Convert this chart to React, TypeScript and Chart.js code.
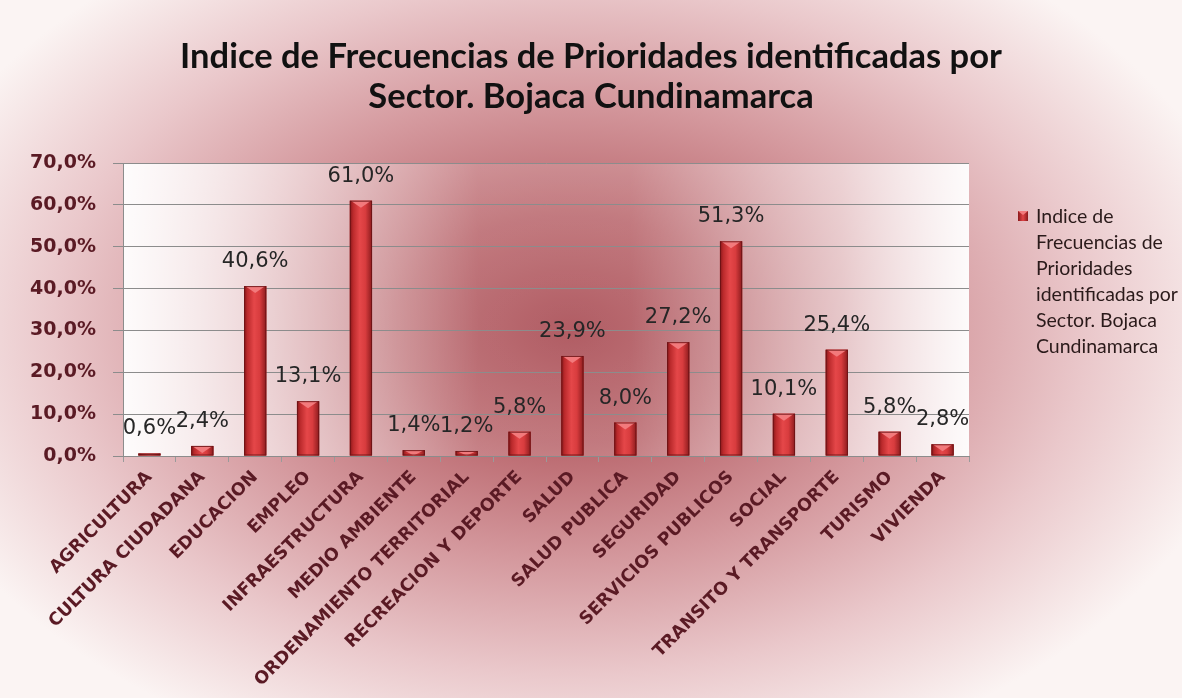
import React, { useEffect, useRef } from 'react';
import { Chart, registerables } from 'chart.js';

Chart.register(...registerables);

const categories = [
  'AGRICULTURA',
  'CULTURA CIUDADANA',
  'EDUCACION',
  'EMPLEO',
  'INFRAESTRUCTURA',
  'MEDIO AMBIENTE',
  'ORDENAMIENTO TERRITORIAL',
  'RECREACION Y DEPORTE',
  'SALUD',
  'SALUD PUBLICA',
  'SEGURIDAD',
  'SERVICIOS PUBLICOS',
  'SOCIAL',
  'TRANSITO Y TRANSPORTE',
  'TURISMO',
  'VIVIENDA',
];

const values = [0.6, 2.4, 40.6, 13.1, 61.0, 1.4, 1.2, 5.8, 23.9, 8.0, 27.2, 51.3, 10.1, 25.4, 5.8, 2.8];

const seriesName = 'Indice de Frecuencias de Prioridades identificadas por Sector. Bojaca Cundinamarca';

const titleLines = ['Indice de Frecuencias de Prioridades identificadas por', 'Sector. Bojaca Cundinamarca'];

const legendLines = ['Indice de', 'Frecuencias de', 'Prioridades', 'identificadas por', 'Sector. Bojaca', 'Cundinamarca'];

const yMin = 0;
const yMax = 70;
const yStep = 10;

const fmt = (v: number) => v.toFixed(1).replace('.', ',') + '%';

const W = 1182;
const H = 698;

const backgroundPlugin = {
  id: 'bgPlugin',
  beforeDraw(chart: any) {
    const ctx = chart.ctx as CanvasRenderingContext2D;
    ctx.save();
    ctx.fillStyle = '#fdf8f7';
    ctx.fillRect(0, 0, W, H);
    ctx.save();
    const cx = 570;
    const cy = 330;
    ctx.translate(cx, cy);
    ctx.scale(1.5, 1);
    const r = 460;
    const g = ctx.createRadialGradient(0, 0, 0, 0, 0, r);
    g.addColorStop(0, 'rgb(166,70,78)');
    g.addColorStop(0.25, 'rgb(186,104,110)');
    g.addColorStop(0.5, 'rgb(212,152,157)');
    g.addColorStop(0.75, 'rgb(234,200,203)');
    g.addColorStop(1, 'rgb(251,244,243)');
    ctx.fillStyle = g;
    ctx.fillRect(-cx / 1.5 - 10, -cy - 10, W / 1.5 + 20, H + 20);
    ctx.restore();
    const a = chart.chartArea;
    const pg = ctx.createLinearGradient(a.left, 0, a.right, 0);
    pg.addColorStop(0, 'rgba(255,255,255,0.95)');
    pg.addColorStop(0.2, 'rgba(255,255,255,0.55)');
    pg.addColorStop(0.42, 'rgba(255,255,255,0.12)');
    pg.addColorStop(0.6, 'rgba(255,255,255,0.12)');
    pg.addColorStop(0.85, 'rgba(255,255,255,0.55)');
    pg.addColorStop(1, 'rgba(255,255,255,0.95)');
    ctx.fillStyle = pg;
    ctx.fillRect(a.left, a.top, a.right - a.left, a.bottom - a.top);
    ctx.restore();
  },
};

const barStylePlugin = {
  id: 'barStyle',
  afterDatasetsDraw(chart: any) {
    const ctx = chart.ctx as CanvasRenderingContext2D;
    const meta = chart.getDatasetMeta(0);
    ctx.save();
    meta.data.forEach((bar: any, i: number) => {
      const { x, y, base, width } = bar.getProps(['x', 'y', 'base', 'width'], true);
      const left = x - width / 2;
      const h = base - y;
      const g = ctx.createLinearGradient(left, 0, left + width, 0);
      g.addColorStop(0, '#861719');
      g.addColorStop(0.15, '#bb2a2c');
      g.addColorStop(0.45, '#e54749');
      g.addColorStop(0.7, '#d83c3e');
      g.addColorStop(1, '#8c1b1d');
      ctx.fillStyle = g;
      ctx.fillRect(left, y, width, h);
      const bev = Math.min(7, h);
      ctx.beginPath();
      ctx.moveTo(left + 1, y);
      ctx.lineTo(left + width - 1, y);
      ctx.lineTo(x, y + bev);
      ctx.closePath();
      ctx.fillStyle = '#f27a7c';
      ctx.fill();
      ctx.strokeStyle = 'rgba(105,18,20,0.85)';
      ctx.lineWidth = 1;
      ctx.strokeRect(left + 0.5, y + 0.5, width - 1, Math.max(h - 1, 0));
      ctx.fillStyle = '#262626';
      ctx.font = '21px "DejaVu Sans"';
      ctx.textAlign = 'center';
      ctx.textBaseline = 'alphabetic';
      ctx.fillText(fmt(values[i]), x, y - 19);
    });
    ctx.restore();
  },
};

const legendPlugin = {
  id: 'customLegend',
  afterDraw(chart: any) {
    const ctx = chart.ctx as CanvasRenderingContext2D;
    ctx.save();
    const bx = 1018;
    const by = 211;
    const s = 10;
    const g = ctx.createLinearGradient(bx, 0, bx + s, 0);
    g.addColorStop(0, '#8a191b');
    g.addColorStop(0.5, '#e04446');
    g.addColorStop(1, '#8a191b');
    ctx.fillStyle = g;
    ctx.fillRect(bx, by, s, s);
    ctx.beginPath();
    ctx.moveTo(bx, by);
    ctx.lineTo(bx + s, by);
    ctx.lineTo(bx + s / 2, by + 4);
    ctx.closePath();
    ctx.fillStyle = '#f27a7c';
    ctx.fill();
    ctx.fillStyle = '#2a1a1a';
    ctx.font = '19.5px Lato';
    ctx.textAlign = 'left';
    ctx.textBaseline = 'alphabetic';
    legendLines.forEach((line, i) => {
      ctx.fillText(line, 1036, 223 + i * 26);
    });
    ctx.restore();
  },
};

export default function App() {
  const ref = useRef<HTMLCanvasElement | null>(null);

  useEffect(() => {
    if (!ref.current) return;
    const chart = new Chart(ref.current, {
      type: 'bar',
      data: {
        labels: categories,
        datasets: [
          {
            label: seriesName,
            data: values,
            backgroundColor: '#c8302f',
            borderWidth: 0,
            barPercentage: 1,
            categoryPercentage: 0.42,
          },
        ],
      },
      options: {
        responsive: false,
        animation: false,
        devicePixelRatio: 1,
        layout: { padding: 0 },
        plugins: {
          legend: { display: false },
          tooltip: { enabled: false },
          title: {
            display: true,
            text: titleLines,
            color: '#111111',
            font: { family: 'Lato', size: 34.5, weight: 'bold', lineHeight: 1.16 },
            padding: { top: 37, bottom: 46 },
          },
        },
        scales: {
          x: {
            afterFit: (scale: any) => {
              scale.height = 242;
            },
            grid: {
              display: true,
              drawOnChartArea: false,
              drawTicks: true,
              tickLength: 6,
              color: '#9a9a9a',
              offset: true,
            },
            border: { display: true, color: '#8c8c8c' },
            ticks: {
              autoSkip: false,
              minRotation: 45,
              maxRotation: 45,
              padding: 5,
              color: '#5a1a24',
              font: { family: 'DejaVu Sans', size: 17.5, weight: 'bold' },
            },
          },
          y: {
            min: yMin,
            max: yMax,
            afterFit: (scale: any) => {
              scale.width = 123;
            },
            grid: {
              color: '#8c8c8c',
              lineWidth: 1,
              drawTicks: true,
              tickLength: 10,
            },
            border: { display: true, color: '#8c8c8c' },
            ticks: {
              stepSize: yStep,
              padding: 17,
              color: '#5a1a24',
              font: { family: 'DejaVu Sans', size: 19, weight: 'bold' },
              callback: (v: any) => fmt(Number(v)),
            },
          },
          legendSpace: {
            type: 'linear',
            position: 'right',
            display: true,
            afterFit: (scale: any) => {
              scale.width = 213;
            },
            grid: { display: false, drawOnChartArea: false, drawTicks: false },
            border: { display: false },
            ticks: { display: false },
          },
        },
      },
      plugins: [backgroundPlugin, barStylePlugin, legendPlugin],
    });
    return () => chart.destroy();
  }, []);

  return (
    <div style={{ position: 'fixed', left: 0, top: 0, width: W, height: H }}>
      <canvas ref={ref} width={W} height={H} style={{ display: 'block', width: W, height: H }} />
    </div>
  );
}
